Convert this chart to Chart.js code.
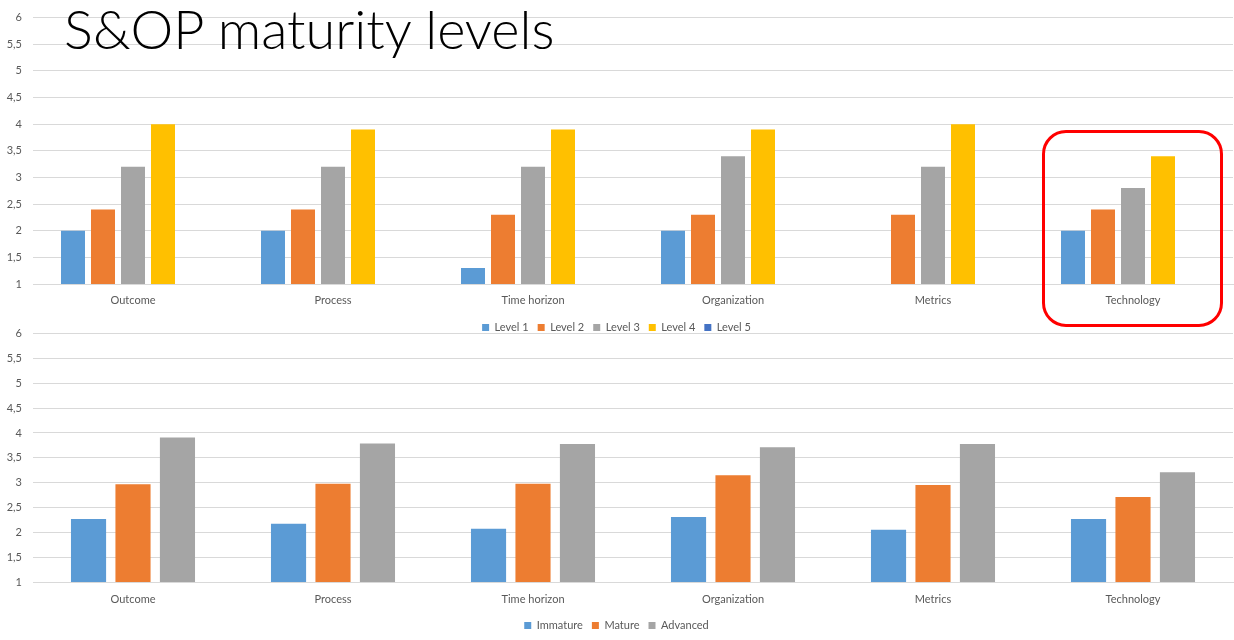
<!DOCTYPE html>
<html>
<head>
<meta charset="utf-8">
<script src="https://cdn.jsdelivr.net/npm/chart.js@4"></script>
<style>
  body { margin: 0; background: #fff; width: 1234px; height: 640px; overflow: hidden; position: relative; font-family: Lato, sans-serif; }
  .box { position: absolute; left: 0; width: 1234px; }
  #topBox { top: 0; height: 343px; }
  #botBox { top: 316px; height: 325px; }
  #title { position: absolute; left: 64px; top: -4px; font-size: 54px; font-weight: 300; color: #000; font-family: Lato, sans-serif; white-space: nowrap; }
  #mark { position: absolute; left: 1042px; top: 130px; width: 175px; height: 191px; border: 3px solid #f00; border-radius: 24px; }
</style>
</head>
<body>
<div class="box" id="topBox"><canvas id="top"></canvas></div>
<div class="box" id="botBox"><canvas id="bot"></canvas></div>
<div id="title">S&amp;OP maturity levels</div>
<div id="mark"></div>
<script>
const categories = ["Outcome", "Process", "Time horizon", "Organization", "Metrics", "Technology"];

const level1 = [2, 2, 1.3, 2, null, 2];
const level2 = [2.4, 2.4, 2.3, 2.3, 2.3, 2.4];
const level3 = [3.2, 3.2, 3.2, 3.4, 3.2, 2.8];
const level4 = [4, 3.9, 3.9, 3.9, 4, 3.4];
const level5 = [null, null, null, null, null, null];

const immature = [2.27, 2.17, 2.07, 2.31, 2.05, 2.27];
const mature = [2.97, 2.98, 2.98, 3.15, 2.95, 2.71];
const advanced = [3.91, 3.79, 3.78, 3.71, 3.78, 3.21];

const yTicks = [1, 1.5, 2, 2.5, 3, 3.5, 4, 4.5, 5, 5.5, 6];

const textColor = "#595959";
const gridColor = "#d9d9d9";
Chart.defaults.font.family = "Lato, sans-serif";
Chart.defaults.font.size = 11;
Chart.defaults.color = textColor;

const makeOptions = (padTop, xHeight, xPad, cp, bp) => ({
  responsive: true,
  maintainAspectRatio: false,
  animation: false,
  layout: { padding: { top: padTop, left: 0, right: 1, bottom: 0 } },
  datasets: { bar: { categoryPercentage: cp, barPercentage: bp } },
  plugins: {
    tooltip: { enabled: false },
    legend: {
      position: "bottom",
      labels: { boxWidth: 7, boxHeight: 7, padding: 9, color: textColor, font: { size: 11 } },
    },
  },
  scales: {
    x: {
      grid: { display: false },
      border: { color: gridColor },
      ticks: { padding: xPad, color: textColor },
      afterFit: (s) => { s.height = xHeight; },
    },
    y: {
      min: 1,
      max: 6,
      afterBuildTicks: (s) => { s.ticks = yTicks.map((v) => ({ value: v })); },
      grid: { color: gridColor, drawTicks: false },
      border: { display: false },
      ticks: { padding: 11, color: textColor, callback: (v) => String(v).replace(".", ",") },
      afterFit: (s) => { s.width = 33; },
    },
  },
});

new Chart(document.getElementById("top"), {
  type: "bar",
  data: {
    labels: categories,
    datasets: [
      { label: "Level 1", data: level1, backgroundColor: "#5b9bd5" },
      { label: "Level 2", data: level2, backgroundColor: "#ed7d31" },
      { label: "Level 3", data: level3, backgroundColor: "#a5a5a5" },
      { label: "Level 4", data: level4, backgroundColor: "#ffc000" },
      { label: "Level 5", data: level5, backgroundColor: "#4472c4" },
    ],
  },
  options: makeOptions(16, 29, 2, 0.75, 0.8),
});

new Chart(document.getElementById("bot"), {
  type: "bar",
  data: {
    labels: categories,
    datasets: [
      { label: "Immature", data: immature, backgroundColor: "#5b9bd5" },
      { label: "Mature", data: mature, backgroundColor: "#ed7d31" },
      { label: "Advanced", data: advanced, backgroundColor: "#a5a5a5" },
    ],
  },
  options: makeOptions(13, 29, 3, 0.667, 0.79),
});
</script>
</body>
</html>
